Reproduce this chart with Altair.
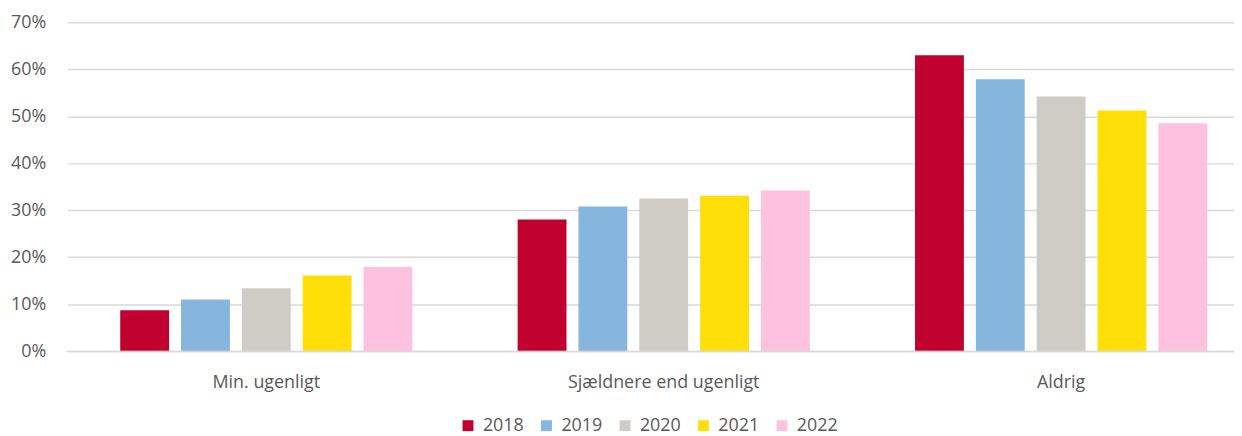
import altair as alt
import pandas as pd

categories = ["Min. ugenligt", "Sjældnere end ugenligt", "Aldrig"]
years = ["2018", "2019", "2020", "2021", "2022"]
values_2018 = [8.7, 28.0, 63.0]
values_2019 = [11.0, 30.8, 57.9]
values_2020 = [13.4, 32.5, 54.2]
values_2021 = [16.1, 33.1, 51.2]
values_2022 = [17.9, 34.2, 48.5]
colors = ["#C0002E", "#86B5DD", "#CFCCC5", "#FFDF07", "#FEC2E0"]

series = [values_2018, values_2019, values_2020, values_2021, values_2022]
rows = []
for y, vals in zip(years, series):
    for c, v in zip(categories, vals):
        rows.append({"kategori": c, "år": y, "andel": v / 100})
df = pd.DataFrame(rows)

FONT = "Open Sans"
TXT = "#595959"

bars = alt.Chart(df).mark_bar().encode(
    x=alt.X("kategori:N", sort=categories, title=None,
            scale=alt.Scale(range=[2, 1202], paddingInner=0, paddingOuter=0),
            axis=alt.Axis(labelAngle=0, ticks=False, domain=False, labelPadding=23,
                          labelLimit=0,
                          labelFontSize=18, labelFont=FONT, labelColor=TXT, grid=False)),
    xOffset=alt.XOffset("år:N", sort=years,
                        scale=alt.Scale(paddingInner=0.197, paddingOuter=0.865)),
    y=alt.Y("andel:Q", title=None,
            scale=alt.Scale(domain=[0, 0.7], nice=False),
            axis=alt.Axis(format=".0%", values=[0, 0.1, 0.2, 0.3, 0.4, 0.5, 0.6, 0.7],
                          ticks=False, domain=False, labelPadding=20,
                          labelFontSize=18, labelFont=FONT, labelColor=TXT,
                          gridColor="#D9D9D9", gridWidth=1.5)),
    color=alt.Color("år:N", sort=years, title=None,
                    scale=alt.Scale(domain=years, range=colors),
                    legend=alt.Legend(orient="none", direction="horizontal",
                                      legendX=396, legendY=397,
                                      symbolType="square", symbolSize=120,
                                      symbolStrokeWidth=0, labelFontSize=18,
                                      labelFont=FONT, labelColor=TXT,
                                      labelOffset=6, columnPadding=13)),
)

base_rule = alt.Chart(pd.DataFrame({"y": [0]})).mark_rule(
    color="#D9D9D9", strokeWidth=1.5, opacity=0.7
).encode(y="y:Q")

chart = alt.layer(bars, base_rule).properties(
    width=1176, height=331,
    autosize=alt.AutoSizeParams(type="none"),
    padding={"left": 58, "top": 13, "right": 0, "bottom": 84},
).configure_view(stroke=None)

chart.save("out.html", embed_options={"renderer": "svg", "actions": False})
